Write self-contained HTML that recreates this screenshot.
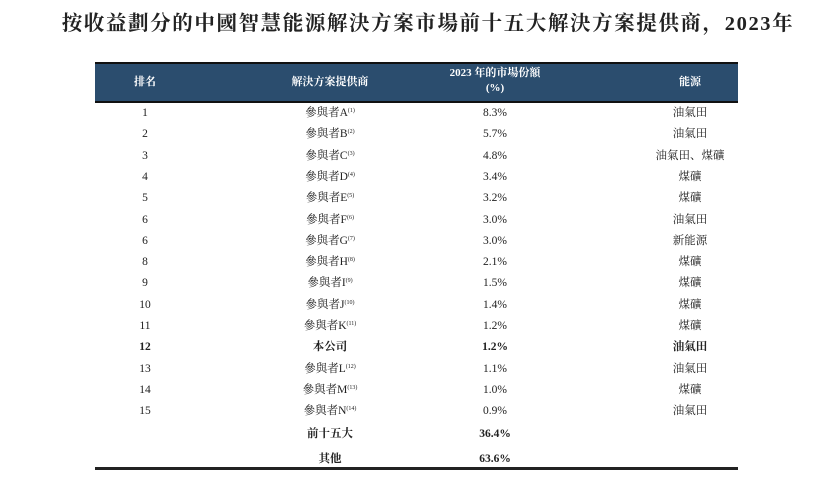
<!DOCTYPE html>
<html><head><meta charset="utf-8"><style>
body{margin:0;width:830px;height:482px;background:#fff;position:relative;overflow:hidden;font-family:"Liberation Serif","Noto Serif CJK SC",serif;color:#222}
.t{position:absolute;white-space:nowrap;line-height:16px}
.c{transform:translateX(-50%)}
#title{left:428px;top:13px;font-size:20.5px;font-weight:bold;letter-spacing:1.6px;transform:translateX(-50%);line-height:22px}
#hdr{position:absolute;left:95px;top:62px;width:643px;height:41px;background:#2b4d6e;border-top:2px solid #111;border-bottom:2px solid #111;box-sizing:border-box}
.h{color:#fff;font-weight:bold;font-size:11px}
.r{font-size:11.5px}
sup{font-size:6px;vertical-align:4px;line-height:0}
#bot{position:absolute;left:95px;top:467px;width:643px;height:3px;background:#222}
</style></head><body>
<div id="title" class="t">按收益劃分的中國智慧能源解決方案市場前十五大解決方案提供商，2023年</div>
<div id="hdr"></div>
<div class="t c h" style="left:145px;top:74px">排名</div>
<div class="t c h" style="left:330px;top:74px">解決方案提供商</div>
<div class="t c h" style="left:495px;top:66px;text-align:center;line-height:15px">2023 年的市場份額<br>(%)</div>
<div class="t c h" style="left:690px;top:74px">能源</div>
<div id="rows"></div>
<div id="bot"></div>
<script>
const ranks=["1","2","3","4","5","6","6","8","9","10","11","12","13","14","15"];
const names=["A","B","C","D","E","F","G","H","I","J","K","本公司","L","M","N"];
const notes=["1","2","3","4","5","6","7","8","9","10","11","","12","13","14"];
const shares=["8.3%","5.7%","4.8%","3.4%","3.2%","3.0%","3.0%","2.1%","1.5%","1.4%","1.2%","1.2%","1.1%","1.0%","0.9%"];
const sources=["油氣田","油氣田","油氣田、煤礦","煤礦","煤礦","油氣田","新能源","煤礦","煤礦","煤礦","煤礦","油氣田","油氣田","煤礦","油氣田"];
const rows=document.getElementById('rows');
function cell(x,y,html,bold,name){const d=document.createElement('div');d.className='t c r';d.style.left=x+'px';d.style.top=y+'px';if(bold)d.style.fontWeight='bold';d.innerHTML=html;


rows.appendChild(d);}
ranks.forEach((r,i)=>{const y=105+i*21.3;const b=names[i]==="本公司";
cell(145,y,r,b,'rank-cell');
cell(330,y,b?names[i]:'參與者'+names[i]+'<sup>('+notes[i]+')</sup>',b,'provider-cell');
cell(495,y,shares[i],b,'share-cell');
cell(690,y,sources[i],b,'source-cell');});
cell(330,426,'前十五大',true,'top15-label');cell(495,426,'36.4%',true,'top15-share');
cell(330,451,'其他',true,'others-label');cell(495,451,'63.6%',true,'others-share');
</script>
</body></html>
